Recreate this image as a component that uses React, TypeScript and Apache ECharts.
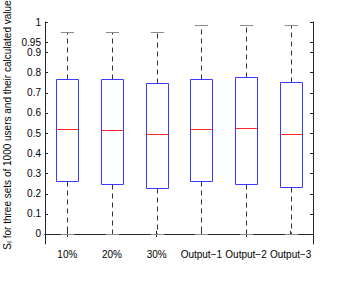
import React, { useEffect, useRef } from "react";
import * as echarts from "echarts";

const categories = ["10%", "20%", "30%", "Output\u22121", "Output\u22122", "Output\u22123"];
const whiskerLow = [0, 0, 0, 0, 0, 0];
const q1 = [0.261, 0.246, 0.228, 0.264, 0.246, 0.234];
const median = [0.518, 0.513, 0.494, 0.521, 0.523, 0.497];
const q3 = [0.766, 0.769, 0.748, 0.769, 0.777, 0.752];
const whiskerHigh = [1.0, 1.0, 1.0, 1.035, 1.035, 1.035];

const yTickValues = [0, 0.1, 0.2, 0.3, 0.4, 0.5, 0.6, 0.7, 0.8, 0.9, 0.95, 1.05];
const yTickLabels = ["0", "0.1", "0.2", "0.3", "0.4", "0.5", "0.6", "0.7", "0.8", "0.9", "0.95", "1"];

const FONT = "'Liberation Sans', Arial, sans-serif";
const FRAME = "#262626";

export default function App() {
  const ref = useRef<HTMLDivElement>(null);
  useEffect(() => {
    if (!ref.current) return;
    const chart = echarts.init(ref.current, null, { renderer: "svg" });
    const labelFor = (v: number) => {
      for (let i = 0; i < yTickValues.length; i++) {
        if (Math.abs(yTickValues[i] - v) < 1e-6) return yTickLabels[i];
      }
      return "";
    };
    const axisLineStyle = { show: true, lineStyle: { color: FRAME, width: 1 } };
    const option: any = {
      animation: false,
      grid: { left: 45, right: 33, top: 22, bottom: 45, containLabel: false },
      xAxis: [
        {
          type: "category",
          data: categories,
          position: "bottom",
          boundaryGap: true,
          axisLine: axisLineStyle,
          axisTick: { show: true, inside: true, length: 3, alignWithLabel: true, lineStyle: { color: FRAME } },
          axisLabel: { color: "#000", fontSize: 10, fontFamily: FONT, margin: 5, interval: 0 },
          splitLine: { show: false },
        },
        {
          type: "category",
          data: categories,
          position: "top",
          boundaryGap: true,
          axisLine: axisLineStyle,
          axisTick: { show: true, inside: true, length: 3, alignWithLabel: true, lineStyle: { color: FRAME } },
          axisLabel: { show: false },
          splitLine: { show: false },
        },
      ],
      yAxis: [
        {
          type: "value",
          min: -0.05,
          max: 1.05,
          interval: 0.05,
          position: "left",
          axisLine: axisLineStyle,
          axisTick: { show: false },
          axisLabel: {
            color: "#000",
            fontSize: 10,
            fontFamily: FONT,
            margin: 4,
            formatter: (v: number) => labelFor(v),
          },
          splitLine: { show: false },
        },
        {
          type: "value",
          min: -0.05,
          max: 1.05,
          interval: 0.05,
          position: "right",
          axisLine: axisLineStyle,
          axisTick: { show: false },
          axisLabel: { show: false },
          splitLine: { show: false },
        },
      ],
      graphic: [
        {
          type: "text",
          x: 7,
          y: 125,
          rotation: Math.PI / 2,
          style: {
            text: "{s|S}{sub|I}{t| for three sets of 1000 users and their calculated value}",
            align: "center",
            verticalAlign: "middle",
            fill: "#000",
            rich: {
              s: { fontSize: 10, fontFamily: FONT, fill: "#000" },
              sub: { fontSize: 7, fontFamily: FONT, fill: "#000", verticalAlign: "bottom", padding: [4, 0, 0, 0] },
              t: { fontSize: 10, fontFamily: FONT, fill: "#000" },
            },
          },
        },
      ],
      series: [
        {
          type: "custom",
          xAxisIndex: 0,
          yAxisIndex: 0,
          data: yTickValues.map((v) => [0, v]),
          encode: { x: 0, y: 1 },
          silent: true,
          renderItem: (params: any, api: any) => {
            const cs = params.coordSys;
            const y = Math.round(api.coord([0, api.value(1)])[1]) + 0.5;
            return {
              type: "group",
              children: [
                { type: "line", shape: { x1: cs.x, y1: y, x2: cs.x + 3, y2: y }, style: { stroke: FRAME, lineWidth: 1 } },
                { type: "line", shape: { x1: cs.x + cs.width - 3, y1: y, x2: cs.x + cs.width, y2: y }, style: { stroke: FRAME, lineWidth: 1 } },
              ],
            };
          },
        },
        {
          type: "custom",
          xAxisIndex: 0,
          yAxisIndex: 0,
          data: categories.map((_, i) => [i, whiskerLow[i], q1[i], median[i], q3[i], whiskerHigh[i]]),
          encode: { x: 0, y: [1, 2, 3, 4, 5] },
          renderItem: (params: any, api: any) => {
            const idx = api.value(0);
            const band = api.size([1, 0])[0];
            const cx = Math.round(api.coord([idx, 0])[0]) + 0.5;
            const yv = (k: number) => Math.round(api.coord([idx, api.value(k)])[1]) + 0.5;
            const yLow = yv(1), yQ1 = yv(2), yMed = yv(3), yQ3 = yv(4), yHigh = yv(5);
            const bw = band * 0.5;
            const cw = band * 0.3;
            const dash = { stroke: "#333", lineWidth: 1, lineDash: [5, 4] };
            const cap = { stroke: "#8c8c8c", lineWidth: 1 };
            return {
              type: "group",
              children: [
                { type: "line", shape: { x1: cx, y1: yQ3, x2: cx, y2: yHigh }, style: dash },
                { type: "line", shape: { x1: cx, y1: yQ1, x2: cx, y2: yLow }, style: dash },
                { type: "line", shape: { x1: cx - cw / 2, y1: yHigh, x2: cx + cw / 2, y2: yHigh }, style: cap },
                { type: "line", shape: { x1: cx - cw / 2, y1: yLow, x2: cx + cw / 2, y2: yLow }, style: cap },
                {
                  type: "rect",
                  shape: { x: Math.round(cx - bw / 2) + 0.5, y: yQ3, width: Math.round(bw), height: yQ1 - yQ3 },
                  style: { fill: "none", stroke: "#3a3aff", lineWidth: 1 },
                },
                {
                  type: "line",
                  shape: { x1: Math.round(cx - bw / 2) + 0.5, y1: yMed, x2: Math.round(cx - bw / 2) + 0.5 + Math.round(bw), y2: yMed },
                  style: { stroke: "#ff2a2a", lineWidth: 1 },
                },
              ],
            };
          },
        },
      ],
    };
    chart.setOption(option);
    return () => chart.dispose();
  }, []);
  return (
    <div
      ref={ref}
      style={{ position: "absolute", left: 0, top: 0, width: 346, height: 289, background: "#fff" }}
    />
  );
}
